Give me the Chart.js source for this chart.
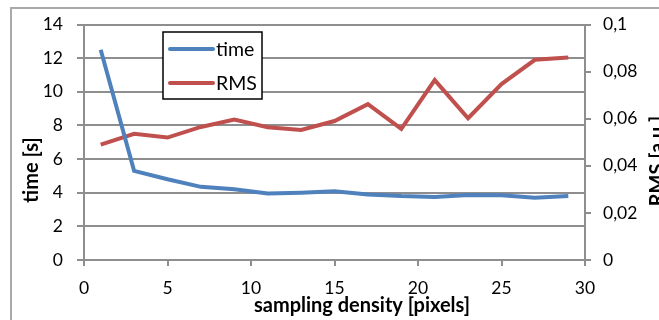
<!DOCTYPE html>
<html>
<head>
<meta charset="utf-8">
<script src="https://cdn.jsdelivr.net/npm/chart.js@4/dist/chart.umd.min.js"></script>
<style>
  html, body { margin: 0; padding: 0; background: #fff; overflow: hidden; }
  #cadre { position: absolute; left: 10px; top: 7px; width: 700px; height: 400px; border: 2px solid #a9a9a9; }
  #graphe { position: absolute; left: 0; top: 0; }
</style>
</head>
<body>
<div id="cadre"></div>
<canvas id="graphe" width="659" height="320"></canvas>
<script>
// données
const densite = [1, 3, 5, 7, 9, 11, 13, 15, 17, 19, 21, 23, 25, 27, 29];
const temps = [12.5, 5.3, 4.8, 4.35, 4.2, 3.95, 4.0, 4.08, 3.9, 3.8, 3.75, 3.87, 3.85, 3.7, 3.8];
const rms = [0.049, 0.0536, 0.052, 0.0565, 0.0596, 0.0564, 0.0552, 0.059, 0.0662, 0.0557, 0.0764, 0.0602, 0.0747, 0.085, 0.086];
const ticksX = [0, 5, 10, 15, 20, 25, 30];

const FONT = 'Lato, "Open Sans", sans-serif';
const GRIS = '#8e8e8e';

function points(vals) {
  return densite.map((d, i) => ({ x: d, y: vals[i] }));
}

const titresAxes = {
  id: 'titresAxes',
  afterDraw(chart) {
    const ctx = chart.ctx;
    ctx.save();
    ctx.fillStyle = '#000';
    ctx.textAlign = 'center';
    ctx.textBaseline = 'alphabetic';
    ctx.font = 'bold 20px ' + FONT;
    ctx.fillText('sampling density [pixels]', 362, 312);
    ctx.save();
    ctx.translate(38, 170);
    ctx.rotate(-Math.PI / 2);
    ctx.fillText('time [s]', 0, 0);
    ctx.restore();
    ctx.save();
    ctx.translate(664, 161);
    ctx.rotate(-Math.PI / 2);
    ctx.fillText('RMS [a.u.]', 0, 0);
    ctx.restore();
    ctx.restore();
  }
};

const legendeBoite = {
  id: 'legendeBoite',
  afterDraw(chart) {
    const ctx = chart.ctx;
    ctx.save();
    ctx.fillStyle = '#fff';
    ctx.fillRect(163, 32, 99, 67);
    ctx.strokeStyle = '#000';
    ctx.lineWidth = 1.5;
    ctx.strokeRect(163, 32, 99, 67);
    ctx.font = '19.5px ' + FONT;
    ctx.textBaseline = 'middle';
    ctx.textAlign = 'left';
    chart.data.datasets.forEach((ds, i) => {
      const y = 49 + i * 34;
      ctx.strokeStyle = ds.borderColor;
      ctx.lineWidth = 4;
      ctx.lineCap = 'round';
      ctx.beginPath();
      ctx.moveTo(170, y);
      ctx.lineTo(213, y);
      ctx.stroke();
      ctx.fillStyle = '#000';
      ctx.fillText(ds.label, 216, y + 1);
    });
    ctx.restore();
  }
};

new Chart(document.getElementById('graphe').getContext('2d'), {
  type: 'line',
  data: {
    datasets: [
      { label: 'time', data: points(temps), yAxisID: 'y', borderColor: '#4f81bd', borderWidth: 4, pointRadius: 0, tension: 0 },
      { label: 'RMS', data: points(rms), yAxisID: 'y1', borderColor: '#c0504d', borderWidth: 4, pointRadius: 0, tension: 0 }
    ]
  },
  options: {
    responsive: false,
    animation: false,
    layout: { padding: { top: 23 } },
    plugins: { legend: { display: false }, tooltip: { enabled: false } },
    scales: {
      x: {
        type: 'linear', min: 0, max: 30,
        afterFit: s => { s.height = 60; },
        afterBuildTicks: s => { s.ticks = ticksX.map(v => ({ value: v })); },
        border: { color: GRIS, width: 2 },
        grid: { drawOnChartArea: false, color: GRIS, lineWidth: 2, tickLength: 6 },
        ticks: { color: '#000', font: { family: FONT, size: 17.5 }, padding: 12, maxRotation: 0 }
      },
      y: {
        position: 'left', min: 0, max: 14,
        afterFit: s => { s.width = 84; },
        border: { color: GRIS, width: 2 },
        grid: { color: GRIS, lineWidth: 2, tickLength: 7 },
        ticks: { stepSize: 2, color: '#000', font: { family: FONT, size: 17.5 }, padding: 14 }
      },
      y1: {
        position: 'right', min: 0, max: 0.1,
        afterFit: s => { s.width = 74; },
        border: { color: GRIS, width: 2 },
        grid: { drawOnChartArea: false, color: GRIS, lineWidth: 2, tickLength: 6 },
        ticks: {
          stepSize: 0.02, color: '#000', font: { family: FONT, size: 17.5 }, padding: 12,
          callback: v => v === 0 ? '0' : String(+v.toFixed(2)).replace('.', ',')
        }
      }
    }
  },
  plugins: [titresAxes, legendeBoite]
});
</script>
</body>
</html>
